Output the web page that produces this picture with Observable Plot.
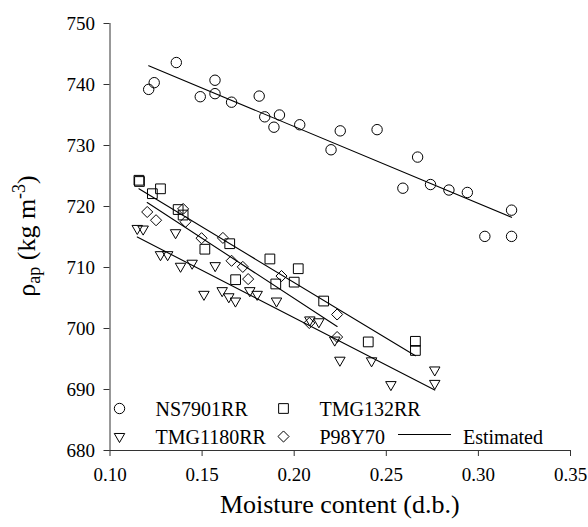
<!DOCTYPE html>
<html><head><meta charset="utf-8">
<script src="https://cdn.jsdelivr.net/npm/d3@7"></script>
<script src="https://cdn.jsdelivr.net/npm/@observablehq/plot@0.6"></script>
<style>
body{margin:0;background:#fff;}
#wrap{position:relative;width:588px;height:527px;font-family:'Liberation Serif';color:#000;}
#wrap svg text, #wrap svg tspan{font-family:'Liberation Serif' !important;}
</style></head><body><div id="wrap"></div>
<script>
// ---- data ----
const seriesNames = ["NS7901RR", "TMG132RR", "TMG1180RR", "P98Y70"];

const ns7901rrX = [0.121,0.124,0.136,0.149,0.157,0.157,0.166,0.181,0.184,0.189,0.192,0.203,0.220,0.225,0.245,0.259,0.267,0.274,0.284,0.294,0.3035,0.318,0.318];
const ns7901rrY = [739.2,740.3,743.6,738.0,738.5,740.7,737.1,738.1,734.7,733.0,735.0,733.4,729.3,732.4,732.6,723.0,728.1,723.6,722.7,722.3,715.1,715.1,719.4];

const tmg132rrX = [0.1157,0.1160,0.123,0.1274,0.137,0.1397,0.1515,0.165,0.1682,0.1868,0.190,0.200,0.2022,0.216,0.2402,0.2658,0.2658];
const tmg132rrY = [724.3,724.1,722.1,722.9,719.5,718.6,713.0,713.9,708.0,711.4,707.3,707.6,709.8,704.5,697.8,697.9,696.4];

const tmg1180rrX = [0.1148,0.118,0.1274,0.1313,0.1356,0.1383,0.1446,0.151,0.1571,0.1609,0.1645,0.1681,0.1759,0.1799,0.1904,0.2085,0.2134,0.222,0.2248,0.242,0.2525,0.2763,0.2763];
const tmg1180rrY = [716.4,716.3,712.1,712.1,715.7,710.2,710.7,705.6,710.3,706.2,705.2,704.5,706.2,705.6,704.5,701.4,701.1,698.1,694.8,694.7,690.8,693.2,691.0];

const p98y70X = [0.1202,0.125,0.1397,0.141,0.1497,0.1613,0.166,0.1721,0.175,0.1931,0.2082,0.2233,0.2233];
const p98y70Y = [719.1,717.75,719.6,717.5,714.8,714.85,711.1,710.1,708.1,708.6,700.9,702.3,698.6];

const xTicks = [0.10, 0.15, 0.20, 0.25, 0.30, 0.35];
const yTicks = [680, 690, 700, 710, 720, 730, 740, 750];
const xTitle = "Moisture content (d.b.)";
const lineLabel = "Estimated";

// ---- build table ----
const xs = [ns7901rrX, tmg132rrX, tmg1180rrX, p98y70X];
const ys = [ns7901rrY, tmg132rrY, tmg1180rrY, p98y70Y];
const rows = seriesNames.flatMap((s, i) => xs[i].map((x, j) => ({series: s, x, y: ys[i][j]})));
const bySeries = s => rows.filter(d => d.series === s);

const symbolOf = {NS7901RR: "circle", TMG132RR: "square2", TMG1180RR: "triangle2", P98Y70: "diamond2"};
const rOf = {NS7901RR: 5.2, TMG132RR: 6.2, TMG1180RR: 5.0, P98Y70: 5.0};
const rotOf = {NS7901RR: 0, TMG132RR: 0, TMG1180RR: 180, P98Y70: 0};

const font = "Liberation Serif";

const chart = Plot.plot({
  width: 588, height: 527,
  marginLeft: 109.5, marginRight: 18, marginTop: 23, marginBottom: 77,
  style: {color: "#000", background: "#fff"},
  x: {domain: [0.10, 0.35]},
  y: {domain: [680, 750]},
  marks: [
    Plot.axisX({ticks: xTicks, tickFormat: d3.format(".2f"), tickSize: 6, tickPadding: 11, fontSize: 19, fontFamily: font, fill: "#000", label: null, stroke: "#333"}),
    Plot.axisY({ticks: yTicks, tickFormat: d3.format("d"), tickSize: 6, tickPadding: 9, fontSize: 19, fontFamily: font, fill: "#000", label: null, stroke: "#333"}),
    Plot.frame({anchor: "left", stroke: "#333"}),
    Plot.frame({anchor: "bottom", stroke: "#333"}),
    ...seriesNames.map(s => Plot.linearRegressionY(bySeries(s), {x: "x", y: "y", stroke: "#000", strokeWidth: 1.1, ci: 0})),
    ...seriesNames.map(s => Plot.dot(bySeries(s), {x: "x", y: "y", symbol: symbolOf[s], r: rOf[s], rotate: rotOf[s], stroke: "#000", strokeWidth: 1, fill: "none"}))
  ]
});

const wrap = document.getElementById("wrap");
wrap.appendChild(chart);

// titles
const svg = d3.select(chart).attr("font-family", font);
svg.append("text")
  .attr("x", (109.5 + 570) / 2).attr("y", 513)
  .attr("text-anchor", "middle")
  .attr("font-family", font).attr("font-size", 26).attr("fill", "#000")
  .text(xTitle);

const yt = svg.append("text")
  .attr("transform", "translate(35,236) rotate(-90)")
  .attr("text-anchor", "middle")
  .attr("font-family", font).attr("font-size", 26).attr("fill", "#000");
yt.append("tspan").text("ρ");
yt.append("tspan").attr("baseline-shift", "-25%").attr("font-size", 18).text("ap");
yt.append("tspan").text(" (kg m");
yt.append("tspan").attr("baseline-shift", "super").attr("font-size", 18).text("-3");
yt.append("tspan").text(")");

// legend (overlay inside the plot area)
const leg = svg.append("g").attr("font-family", font).attr("font-size", 20).attr("text-anchor", "start");
const legendItems = [
  {name: "NS7901RR", col: 0, row: 0},
  {name: "TMG132RR", col: 1, row: 0},
  {name: "TMG1180RR", col: 0, row: 1},
  {name: "P98Y70", col: 1, row: 1}
];
const colX = [119.5, 283.5], rowY = [408.5, 436.5];
const symMap = {circle: d3.symbolCircle, square2: d3.symbolSquare2, triangle2: d3.symbolTriangle2, diamond2: d3.symbolDiamond2};
legendItems.forEach(it => {
  const s = it.name, cx = colX[it.col], cy = rowY[it.row];
  leg.append("path")
    .attr("d", d3.symbol(symMap[symbolOf[s]], Math.PI * rOf[s] * rOf[s])())
    .attr("transform", `translate(${cx},${cy}) rotate(${rotOf[s]})`)
    .attr("fill", "none").attr("stroke", "#000").attr("stroke-width", 1);
  leg.append("text").attr("x", cx + 36).attr("y", cy + 7).attr("text-anchor", "start").attr("fill", "#000").text(s);
});
leg.append("line").attr("x1", 398).attr("x2", 451).attr("y1", 434.5).attr("y2", 434.5).attr("stroke", "#000").attr("stroke-width", 1.1);
leg.append("text").attr("x", 463).attr("y", rowY[1] + 7).attr("text-anchor", "start").attr("fill", "#000").text(lineLabel);
</script>
</body></html>
